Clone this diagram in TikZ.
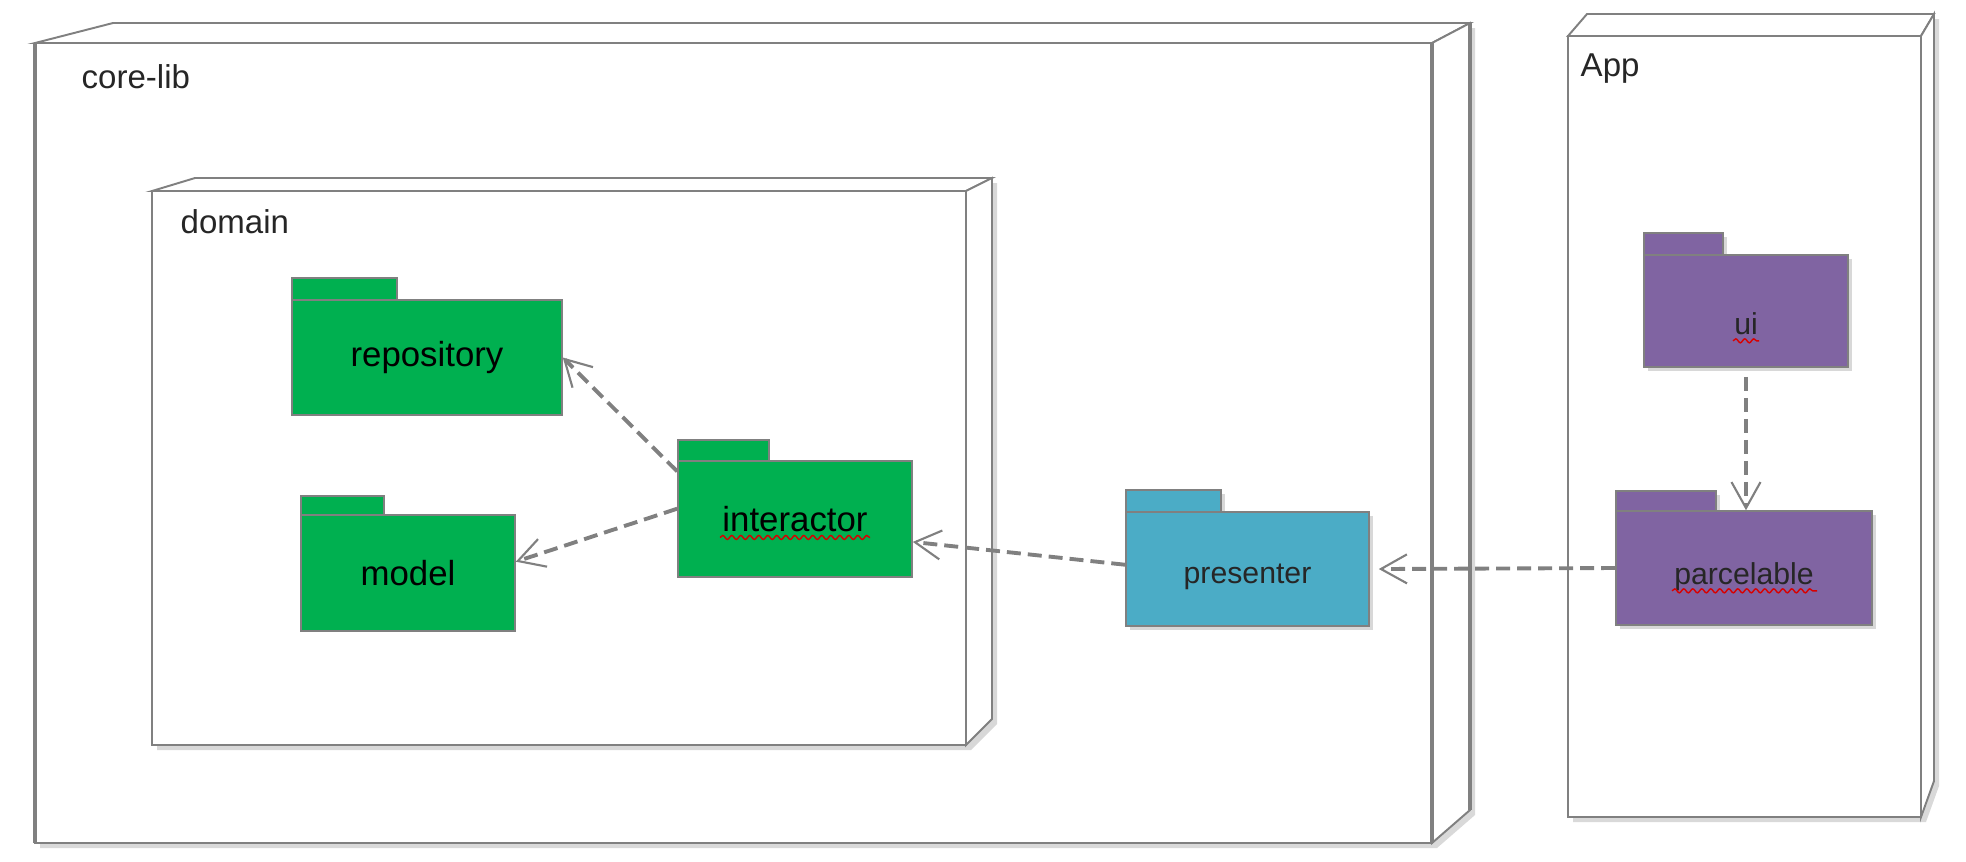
\documentclass[tikz,border=0pt]{standalone}
\usepackage{fontspec}
\setmainfont{Liberation Sans}
\usetikzlibrary{arrows.meta,shadows,calc,decorations.pathmorphing}

\definecolor{pkgGreen}{RGB}{0,176,80}
\definecolor{pkgBlue}{RGB}{75,172,198}
\definecolor{pkgPurple}{RGB}{128,100,162}
\definecolor{edgeGray}{RGB}{128,128,128}
\definecolor{inkGray}{RGB}{38,38,38}

\tikzset{
  boxline/.style={draw=edgeGray, line width=0.55pt, fill=white},
  boxshadow/.style={fill=white, drop shadow={shadow xshift=0.5mm, shadow yshift=-0.5mm, opacity=0.3}},
  boxlabel/.style={anchor=base west, inner sep=0pt, text=inkGray, font=\fontsize{9.4}{11}\selectfont},
  pkgline/.style={draw=edgeGray, line width=0.45pt},
  corepkg/.style={pkgline, fill=pkgGreen, text=black, font=\fontsize{9.9}{12}\selectfont},
  presentpkg/.style={pkgline, fill=pkgBlue, text=inkGray, font=\fontsize{8.6}{10}\selectfont,
    drop shadow={shadow xshift=0.4mm, shadow yshift=-0.4mm, opacity=0.3}},
  apppkg/.style={pkgline, fill=pkgPurple, text=inkGray, font=\fontsize{8.6}{10}\selectfont,
    drop shadow={shadow xshift=0.4mm, shadow yshift=-0.4mm, opacity=0.3}},
  dep/.style={draw=edgeGray, line width=1.1pt, dash pattern=on 1.4mm off 0.7mm,
    -{Straight Barb[length=2.6mm, width=2.9mm, line width=0.6pt]}},
  squiggle/.style={draw=red!85!black, line width=0.4pt, decorate,
    decoration={snake, amplitude=0.2mm, segment length=0.9mm}}
}

% 3D node: left, top, right, bottom, depth left, depth right, rise, rise bottom
\newcommand{\devbox}[8]{%
  \path[boxshadow] (#1,#2) -- (#1+#5,#2-#7) -- (#3+#6,#2-#7) -- (#3+#6,#4-#8)
    -- (#3,#4) -- (#1,#4) -- cycle;
  \draw[boxline] (#1,#2) rectangle (#3,#4);
  \draw[boxline] (#1,#2) -- (#1+#5,#2-#7) -- (#3+#6,#2-#7) -- (#3,#2) -- cycle;
  \draw[boxline] (#3,#2) -- (#3+#6,#2-#7) -- (#3+#6,#4-#8) -- (#3,#4) -- cycle;
}

% package: name, style, left, tab top, body top, right, bottom, tab right, label
\newcommand{\pkgnode}[9]{%
  \draw[#2] (#3,#4) rectangle (#8,#5);
  \node[#2, inner sep=0pt, minimum width={(#6-#3)*0.1mm}, minimum height={(#7-#5)*0.1mm}]
    (#1) at ({(#3+#6)/2},{(#5+#7)/2}) {#9};
}
% label sitting a little below the middle
\newcommand{\lowtext}[2]{\raisebox{-#1}[\height][\depth]{#2}}

\begin{document}
\begin{tikzpicture}[x=0.1mm,y=-0.1mm]
  \useasboundingbox (0,0) rectangle (1966,861);

  % --- nodes ---
  \devbox{35}{43}{1432}{843}{78}{38}{20}{33}
  \draw[edgeGray, line width=1.1pt] (35,43) -- (35,843)
    (1432,43) -- (1432,843) (1470,23) -- (1470,810);
  \node[boxlabel] (corelib) at (81,88) {core-lib};

  \devbox{152}{191}{966}{745}{43}{26}{13}{26}
  \node[boxlabel] (domain) at (180,233) {domain};

  \devbox{1568}{36}{1921}{817}{19}{13}{22}{36}
  \node[boxlabel] (app) at (1580,76) {App};

  % --- packages ---
  \pkgnode{repository}{corepkg}{292}{278}{300}{562}{415}{397}{repository}
  \pkgnode{model}{corepkg}{301}{496}{515}{515}{631}{384}{model}
  \pkgnode{interactor}{corepkg}{678}{440}{461}{912}{577}{769}{interactor}
  \pkgnode{presenter}{presentpkg}{1126}{490}{512}{1369}{626}{1221}{\lowtext{0.75mm}{presenter}}
  \pkgnode{ui}{apppkg}{1644}{233}{255}{1848}{367}{1723}{\lowtext{1.3mm}{ui}}
  \pkgnode{parcelable}{apppkg}{1616}{491}{511}{1872}{625}{1716}{\lowtext{0.9mm}{parcelable}}

  \draw[squiggle] ($(interactor.base)+(-75,6)$) -- ++(150,0);
  \draw[squiggle] ($(ui.base)+(-13,19)$) -- ++(26,0);
  \draw[squiggle] ($(parcelable.base)+(-72,15)$) -- ++(145,0);

  % --- dependencies ---
  \draw[dep] (interactor.158) -- (repository.east);
  \draw[dep] (interactor.175) -- (model.6);
  \draw[dep] (presenter.178) -- (interactor.349);
  \draw[dep] (parcelable.west) -- ([xshift=0.9mm]presenter.east);
  \draw[dep] ([yshift=-0.9mm]ui.south) -- (ui.south |- parcelable.north);
\end{tikzpicture}
\end{document}
